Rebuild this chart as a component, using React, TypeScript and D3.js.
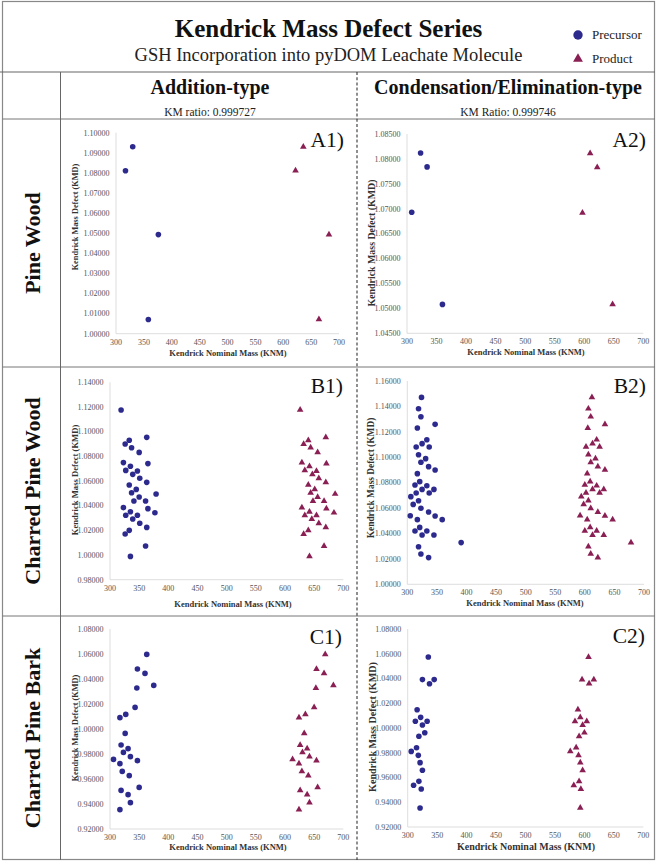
import React from 'react';
import * as d3 from 'd3';

type Pt = [number, number];

// Kendrick nominal mass ticks shared by every panel
const knmTicks = [300, 350, 400, 450, 500, 550, 600, 650, 700];

// Y ticks for each panel
const kmdTicksA1 = [1.0, 1.01, 1.02, 1.03, 1.04, 1.05, 1.06, 1.07, 1.08, 1.09, 1.1];
const kmdTicksA2 = [1.045, 1.05, 1.055, 1.06, 1.065, 1.07, 1.075, 1.08, 1.085];
const kmdTicksB1 = [0.98, 1.0, 1.02, 1.04, 1.06, 1.08, 1.1, 1.12, 1.14];
const kmdTicksB2 = [1.0, 1.02, 1.04, 1.06, 1.08, 1.1, 1.12, 1.14, 1.16];
const kmdTicksC = [0.92, 0.94, 0.96, 0.98, 1.0, 1.02, 1.04, 1.06, 1.08];

// Pine Wood — addition-type [KNM, KMD]
const pineWoodAddPrecursor: Pt[] = [[330, 1.093], [317, 1.0811], [376, 1.0493], [358, 1.0071]];
const pineWoodAddProduct: Pt[] = [[636, 1.093], [622, 1.0811], [682, 1.0493], [664, 1.0071]];

// Pine Wood — condensation/elimination-type
const pineWoodCondPrecursor: Pt[] = [[323, 1.0812], [334, 1.0784], [308, 1.0693], [360, 1.0508]];
const pineWoodCondProduct: Pt[] = [[610, 1.0811], [622, 1.0783], [597, 1.0692], [648, 1.0508]];

// Charred Pine Wood — addition-type
const charredWoodAddPrecursor: Pt[] = [
  [319, 1.1176], [326, 1.09], [333, 1.093], [337, 1.087], [350, 1.0832], [363, 1.0954],
  [323, 1.0749], [327, 1.0686], [335, 1.0719], [339, 1.0654], [347, 1.0681], [351, 1.0622],
  [365, 1.0741], [333, 1.0568], [337, 1.0505], [345, 1.0532], [341, 1.0438], [350, 1.047],
  [363, 1.0589], [361, 1.0438], [379, 1.0495], [323, 1.0384], [327, 1.0322], [335, 1.0351],
  [339, 1.0292], [347, 1.0322], [351, 1.0257], [365, 1.0376], [377, 1.0343], [326, 1.017],
  [333, 1.02], [363, 1.0224], [361, 1.0073], [335, 0.9989],
];
const charredWoodAddProduct: Pt[] = [
  [626, 1.1176], [632, 1.09], [640, 1.093], [644, 1.087], [656, 1.0832], [670, 1.0954],
  [629, 1.0749], [634, 1.0686], [642, 1.0719], [647, 1.0654], [654, 1.0681], [658, 1.0622],
  [671, 1.0741], [640, 1.0568], [644, 1.0505], [651, 1.0532], [648, 1.0438], [656, 1.047],
  [670, 1.0589], [667, 1.0438], [686, 1.0495], [629, 1.0384], [634, 1.0322], [642, 1.0351],
  [646, 1.0292], [654, 1.0322], [658, 1.0257], [671, 1.0376], [684, 1.0343], [632, 1.017],
  [640, 1.02], [670, 1.0224], [667, 1.0073], [642, 0.9989],
];

// Charred Pine Wood — condensation/elimination-type
const charredWoodCondPrecursor: Pt[] = [
  [324, 1.1471], [319, 1.1382], [323, 1.1319], [317, 1.123], [347, 1.1259], [333, 1.1138],
  [325, 1.1107], [337, 1.1081], [315, 1.1081], [319, 1.102], [331, 1.0989], [323, 1.096],
  [336, 1.0926], [347, 1.09], [317, 1.0871], [321, 1.0808], [313, 1.0782], [333, 1.0776],
  [325, 1.0747], [345, 1.0747], [315, 1.0719], [337, 1.0719], [306, 1.069], [310, 1.0629],
  [319, 1.0658], [323, 1.0598], [336, 1.0569], [305, 1.054], [347, 1.0538], [317, 1.0509],
  [359, 1.0509], [321, 1.0448], [313, 1.042], [333, 1.042], [325, 1.0388], [345, 1.0388],
  [391, 1.0328], [319, 1.0296], [323, 1.0239], [336, 1.021],
];
const charredWoodCondProduct: Pt[] = [
  [612, 1.1471], [606, 1.1382], [610, 1.1319], [605, 1.123], [634, 1.1259], [620, 1.1138],
  [613, 1.1107], [625, 1.1081], [602, 1.1081], [606, 1.102], [618, 1.0989], [610, 1.096],
  [622, 1.0926], [634, 1.09], [604, 1.0871], [609, 1.0808], [600, 1.0782], [620, 1.0776],
  [613, 1.0747], [632, 1.0747], [602, 1.0719], [625, 1.0719], [594, 1.069], [598, 1.0629],
  [606, 1.0658], [610, 1.0598], [622, 1.0569], [592, 1.054], [634, 1.0538], [604, 1.0509],
  [647, 1.0509], [609, 1.0448], [600, 1.042], [620, 1.042], [613, 1.0388], [632, 1.0388],
  [678, 1.0328], [606, 1.0296], [610, 1.0239], [622, 1.021],
];

// Charred Pine Bark — addition-type
const charredBarkAddPrecursor: Pt[] = [
  [363, 1.0597], [347, 1.048], [360, 1.0445], [375, 1.0349], [346, 1.0328], [343, 1.0173],
  [327, 1.0117], [317, 1.0091], [326, 0.9965], [319, 0.9872], [331, 0.9843], [323, 0.9813],
  [335, 0.9779], [306, 0.9757], [347, 0.9747], [317, 0.9723], [321, 0.9661], [333, 0.9627],
  [350, 0.9533], [319, 0.9509], [331, 0.9475], [335, 0.9411], [317, 0.9355],
];
const charredBarkAddProduct: Pt[] = [
  [669, 1.0597], [654, 1.048], [667, 1.0445], [683, 1.0349], [653, 1.0328], [650, 1.0173],
  [635, 1.0117], [624, 1.0091], [633, 0.9965], [626, 0.9872], [638, 0.9843], [630, 0.9813],
  [642, 0.9779], [613, 0.9757], [654, 0.9747], [624, 0.9723], [629, 0.9661], [640, 0.9627],
  [656, 0.9533], [626, 0.9509], [638, 0.9475], [642, 0.9411], [624, 0.9355],
];

// Charred Pine Bark — condensation/elimination-type
const charredBarkCondPrecursor: Pt[] = [
  [335, 1.0574], [325, 1.0391], [345, 1.0391], [337, 1.0358], [316, 1.0148], [322, 1.0086],
  [313, 1.0054], [333, 1.0054], [325, 1.0024], [329, 0.9962], [319, 0.9933], [306, 0.9811],
  [315, 0.9841], [318, 0.9779], [321, 0.972], [325, 0.9658], [319, 0.9569], [310, 0.9537],
  [323, 0.9507], [321, 0.9354],
];
const charredBarkCondProduct: Pt[] = [
  [607, 1.0574], [596, 1.0391], [616, 1.0391], [608, 1.0358], [589, 1.0148], [593, 1.0086],
  [584, 1.0054], [604, 1.0054], [597, 1.0024], [600, 0.9962], [591, 0.9933], [576, 0.9811],
  [586, 0.9841], [590, 0.9779], [593, 0.972], [597, 0.9658], [591, 0.9569], [582, 0.9537],
  [594, 0.9507], [593, 0.9354],
];

const rowLabels = ['Pine Wood', 'Charred Pine Wood', 'Charred Pine Bark'];
const columnTitles = ['Addition-type', 'Condensation/Elimination-type'];
const columnRatios = ['KM ratio: 0.999727', 'KM Ratio: 0.999746'];

const PRECURSOR = '#2d2a8e';
const PRODUCT = '#8a1f54';
const SERIF = '"Liberation Serif", "Times New Roman", Times, serif';

interface PanelSpec {
  tag: string;
  precursor: Pt[];
  product: Pt[];
  yTicks: number[];
  x0: number; x1: number; yTop: number; yBot: number;
  xTitle: [number, number, number];
  yTitle: [number, number, number];
  tagPos: [number, number];
}

const panels: PanelSpec[] = [
  { tag: 'A1)', precursor: pineWoodAddPrecursor, product: pineWoodAddProduct, yTicks: kmdTicksA1,
    x0: 116, x1: 339, yTop: 132.7, yBot: 333.7, xTitle: [228, 356, 8.5], yTitle: [75, 217, 8.3], tagPos: [344, 147] },
  { tag: 'A2)', precursor: pineWoodCondPrecursor, product: pineWoodCondProduct, yTicks: kmdTicksA2,
    x0: 407, x1: 643.3, yTop: 134, yBot: 333.3, xTitle: [526, 355, 8.5], yTitle: [372, 243, 9.9], tagPos: [646, 147] },
  { tag: 'B1)', precursor: charredWoodAddPrecursor, product: charredWoodAddProduct, yTicks: kmdTicksB1,
    x0: 110, x1: 343.3, yTop: 382.3, yBot: 579.7, xTitle: [233, 607, 8.5], yTitle: [75, 480, 8.6], tagPos: [343, 393] },
  { tag: 'B2)', precursor: charredWoodCondPrecursor, product: charredWoodCondProduct, yTicks: kmdTicksB2,
    x0: 407.3, x1: 644, yTop: 381, yBot: 584.3, xTitle: [525, 606, 8.5], yTitle: [371, 478, 9.4], tagPos: [646, 393] },
  { tag: 'C1)', precursor: charredBarkAddPrecursor, product: charredBarkAddProduct, yTicks: kmdTicksC,
    x0: 110, x1: 343.3, yTop: 629, yBot: 829, xTitle: [228, 850, 8.5], yTitle: [75, 728, 8.3], tagPos: [342, 644] },
  { tag: 'C2)', precursor: charredBarkCondPrecursor, product: charredBarkCondProduct, yTicks: kmdTicksC,
    x0: 407.7, x1: 643.3, yTop: 629, yBot: 827, xTitle: [526, 850, 10], yTitle: [372, 727, 10.1], tagPos: [645, 643] },
];

const fmt = d3.format('.5f');
const trianglePath = d3.symbol(d3.symbolTriangle, 19)() as string;
const legendTriangle = d3.symbol(d3.symbolTriangle, 42)() as string;

function Panel({ p }: { p: PanelSpec }) {
  const x = d3.scaleLinear().domain([knmTicks[0], knmTicks[knmTicks.length - 1]]).range([p.x0, p.x1]);
  const y = d3.scaleLinear().domain([p.yTicks[0], p.yTicks[p.yTicks.length - 1]]).range([p.yBot, p.yTop]);
  return (
    <g>
      <line x1={x(knmTicks[0])} x2={x(knmTicks[0])} y1={y.range()[0]} y2={y.range()[1]} stroke="#d4d4d4" strokeWidth={0.8} />
      <line x1={x.range()[0]} x2={x.range()[1]} y1={y.range()[0]} y2={y.range()[0]} stroke="#d4d4d4" strokeWidth={0.8} />
      {p.yTicks.map((t) => (
        <text key={`y${t}`} x={x.range()[0] - 6.5} y={y(t)} dy="0.35em" textAnchor="end" fontSize={8} fill="#555" fontFamily={SERIF}>
          {fmt(t)}
        </text>
      ))}
      {knmTicks.map((t) => (
        <text key={`x${t}`} x={x(t)} y={y.range()[0] + 11} textAnchor="middle" fontSize={8} fill="#555" fontFamily={SERIF}>
          {t}
        </text>
      ))}
      <text x={p.xTitle[0]} y={p.xTitle[1]} textAnchor="middle" fontSize={p.xTitle[2]} fontWeight="bold" fill="#333" fontFamily={SERIF}>
        Kendrick Nominal Mass (KNM)
      </text>
      <text transform={`translate(${p.yTitle[0]},${p.yTitle[1]}) rotate(-90)`} dy="0.35em" textAnchor="middle"
        fontSize={p.yTitle[2]} fontWeight="bold" fill="#333" fontFamily={SERIF}>
        Kendrick Mass Defect (KMD)
      </text>
      {p.precursor.map((d, i) => (
        <circle key={`c${i}`} cx={x(d[0])} cy={y(d[1])} r={2.8} fill={PRECURSOR} />
      ))}
      {p.product.map((d, i) => (
        <path key={`t${i}`} d={trianglePath} transform={`translate(${x(d[0])},${y(d[1])})`} fill={PRODUCT} />
      ))}
      <text x={p.tagPos[0]} y={p.tagPos[1]} textAnchor="end" fontSize={21.5} fill="#111" fontFamily={SERIF}>
        {p.tag}
      </text>
    </g>
  );
}

export default function App() {
  const rowCenters = [243, 491, 738];
  const colCenters = [210, 508];
  return (
    <svg width={658} height={862} style={{ position: 'absolute', left: 0, top: 0, background: '#fff' }}
      fontFamily={SERIF}>
      <rect x={0} y={0} width={658} height={862} fill="#fff" />
      {/* frame and grid */}
      <rect x={2.5} y={1.5} width={652} height={858} fill="none" stroke="#888" strokeWidth={1.2} />
      <line x1={0} x2={655} y1={72} y2={72} stroke="#666" strokeWidth={1.2} />
      <line x1={2.5} x2={655} y1={119} y2={119} stroke="#777" strokeWidth={1} />
      <line x1={2.5} x2={655} y1={367} y2={367} stroke="#777" strokeWidth={1} />
      <line x1={2.5} x2={655} y1={616} y2={616} stroke="#777" strokeWidth={1} />
      <line x1={60.5} x2={60.5} y1={72} y2={860} stroke="#666" strokeWidth={1} />
      <line x1={357} x2={357} y1={72} y2={860} stroke="#333" strokeWidth={1.1} strokeDasharray="3,2.2" />

      {/* header */}
      <text x={328.5} y={37} textAnchor="middle" fontSize={25} fontWeight="bold" fill="#111">
        Kendrick Mass Defect Series
      </text>
      <text x={328.5} y={61} textAnchor="middle" fontSize={18.5} fill="#222">
        GSH Incorporation into pyDOM Leachate Molecule
      </text>
      <circle cx={578} cy={35} r={4.7} fill={PRECURSOR} />
      <text x={592} y={39} fontSize={13} fill="#222">Precursor</text>
      <path d={legendTriangle} transform="translate(578,59)" fill={PRODUCT} />
      <text x={592} y={63} fontSize={13} fill="#222">Product</text>

      {columnTitles.map((t, i) => (
        <g key={t}>
          <text x={colCenters[i]} y={94} textAnchor="middle" fontSize={20} fontWeight="bold" fill="#111">{t}</text>
          <text x={colCenters[i]} y={116} textAnchor="middle" fontSize={11.5} fill="#222">{columnRatios[i]}</text>
        </g>
      ))}

      {rowLabels.map((t, i) => (
        <text key={t} transform={`translate(32,${rowCenters[i]}) rotate(-90)`} dy="0.35em" textAnchor="middle"
          fontSize={22} fontWeight="bold" fill="#111">
          {t}
        </text>
      ))}

      {panels.map((p) => <Panel key={p.tag} p={p} />)}
    </svg>
  );
}
